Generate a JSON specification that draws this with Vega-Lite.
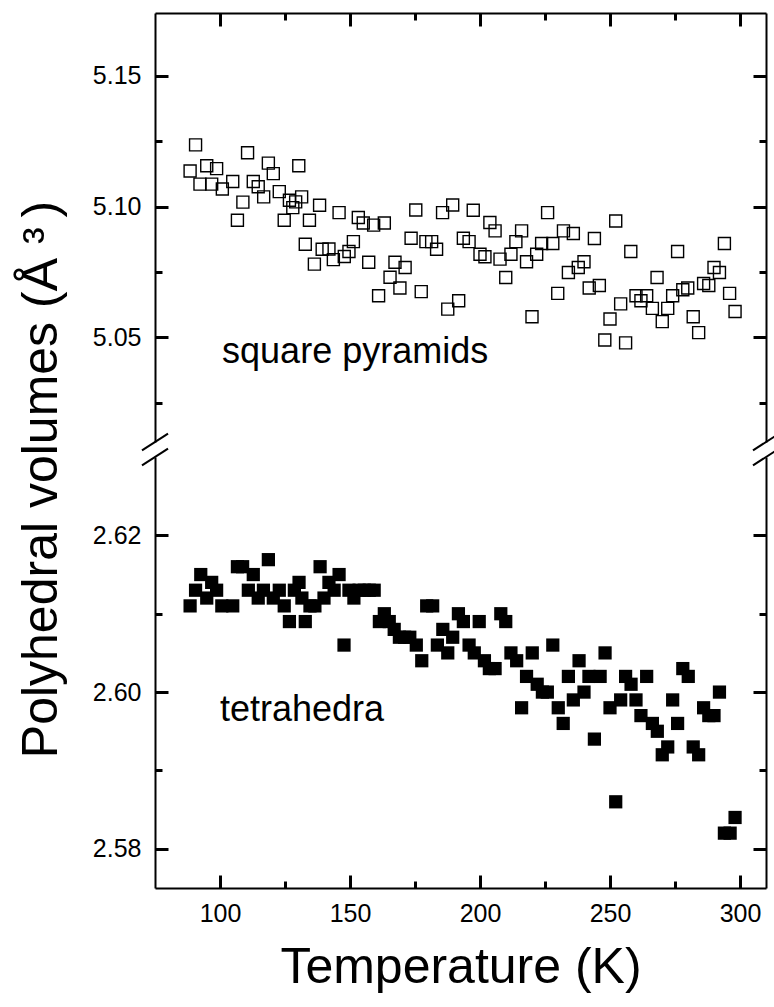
{
"$schema": "https://vega.github.io/schema/vega-lite/v6.json",
"background": "white",
"padding": {"left": 17, "top": 11, "right": 0, "bottom": 5},
"width": 611,
"height": 875,
"title": {"text": "Polyhedral volumes (Å ³\u2009)", "orient": "left", "anchor": "middle", "font": "Liberation Sans", "fontSize": 50, "fontWeight": "normal", "color": "black", "offset": 25, "dx": -29},
"config": {
  "view": {"stroke": null},
  "font": "Liberation Sans",
  "axis": {"domainColor": "black", "domainWidth": 2, "tickColor": "black", "tickWidth": 3, "labelColor": "black", "labelFont": "Liberation Sans", "labelFontSize": 25, "grid": false, "titleFont": "Liberation Sans", "titleFontWeight": "normal", "titleColor": "black", "title": null}
},
"datasets": {
"pyr": [
{"T":88.5,"V":5.1136},{"T":90.6,"V":5.1236},{"T":92.3,"V":5.1086},{"T":94.9,"V":5.1156},{"T":96.8,"V":5.1086},{"T":98.7,"V":5.1145},{"T":100.9,"V":5.1067},{"T":104.9,"V":5.1096},{"T":106.7,"V":5.0948},{"T":108.8,"V":5.1017},{"T":110.6,"V":5.1206},{"T":112.8,"V":5.1096},{"T":114.7,"V":5.1076},{"T":116.8,"V":5.1037},{"T":118.6,"V":5.1166},{"T":120.5,"V":5.1126},{"T":122.8,"V":5.1057},{"T":124.7,"V":5.0948},{"T":126.7,"V":5.1024},{"T":128,"V":5.0996},{"T":129.1,"V":5.1018},{"T":130.3,"V":5.1156},{"T":131.4,"V":5.1037},{"T":132.8,"V":5.0856},{"T":134.4,"V":5.0948},{"T":136.3,"V":5.078},{"T":138.3,"V":5.1005},{"T":139.3,"V":5.0837},{"T":141.9,"V":5.0838},{"T":143.6,"V":5.0797},{"T":145.8,"V":5.0977},{"T":147.8,"V":5.0809},{"T":149.6,"V":5.0828},{"T":151.3,"V":5.0866},{"T":153.2,"V":5.0958},{"T":155.1,"V":5.0937},{"T":157.2,"V":5.0787},{"T":159.1,"V":5.0929},{"T":161,"V":5.0659},{"T":163.2,"V":5.0937},{"T":165.4,"V":5.073},{"T":167.3,"V":5.0787},{"T":169.2,"V":5.0689},{"T":171.2,"V":5.0767},{"T":173.5,"V":5.0879},{"T":175.3,"V":5.0987},{"T":177.4,"V":5.0675},{"T":179.2,"V":5.0866},{"T":181.4,"V":5.0866},{"T":183.3,"V":5.0837},{"T":185.6,"V":5.0977},{"T":187.6,"V":5.0608},{"T":189.5,"V":5.1006},{"T":191.8,"V":5.064},
{"T":193.6,"V":5.0879},{"T":195.8,"V":5.0866},{"T":197.4,"V":5.0986},{"T":200,"V":5.0818},{"T":201.9,"V":5.0808},{"T":203.8,"V":5.0939},{"T":205.8,"V":5.0907},{"T":207.7,"V":5.0799},{"T":209.9,"V":5.0729},{"T":211.9,"V":5.0818},{"T":213.8,"V":5.0866},{"T":216,"V":5.0907},{"T":217.9,"V":5.0789},{"T":220,"V":5.0579},{"T":221.8,"V":5.0818},{"T":223.7,"V":5.0859},{"T":226,"V":5.0977},{"T":228,"V":5.0859},{"T":229.9,"V":5.0668},{"T":232.1,"V":5.0907},{"T":234,"V":5.0748},{"T":235.9,"V":5.0897},{"T":237.8,"V":5.0767},{"T":240,"V":5.0789},{"T":242,"V":5.0689},{"T":244,"V":5.0878},{"T":245.9,"V":5.0698},{"T":248,"V":5.049},{"T":250,"V":5.057},{"T":252.2,"V":5.0945},{"T":254.1,"V":5.0628},{"T":256,"V":5.0479},{"T":258,"V":5.0828},{"T":260,"V":5.0659},{"T":261.9,"V":5.064},{"T":264.1,"V":5.0659},{"T":266.3,"V":5.0611},{"T":268.1,"V":5.0729},{"T":270.1,"V":5.056},{"T":272.2,"V":5.0611},{"T":274.1,"V":5.0659},{"T":276,"V":5.0828},{"T":278,"V":5.0682},{"T":279.9,"V":5.0689},{"T":282,"V":5.0579},{"T":284.1,"V":5.0518},{"T":286,"V":5.0706},{"T":288,"V":5.0698},{"T":290,"V":5.0767},{"T":292.1,"V":5.0748},{"T":294,"V":5.0859},{"T":296,"V":5.0668},{"T":298.1,"V":5.0599}
],
"tet": [
{"T":88.5,"V":2.611},{"T":90.6,"V":2.613},{"T":92.6,"V":2.615},{"T":94.9,"V":2.612},{"T":96.8,"V":2.614},{"T":98.7,"V":2.613},{"T":100.7,"V":2.611},{"T":104.9,"V":2.611},{"T":106.7,"V":2.616},{"T":108.7,"V":2.616},{"T":110.9,"V":2.613},{"T":112.8,"V":2.615},{"T":114.7,"V":2.612},{"T":116.7,"V":2.613},{"T":118.6,"V":2.6169},{"T":120.5,"V":2.612},{"T":122.8,"V":2.613},{"T":124.7,"V":2.611},{"T":126.7,"V":2.609},{"T":128.6,"V":2.613},{"T":130.4,"V":2.614},{"T":131.5,"V":2.612},{"T":132.8,"V":2.609},{"T":134.6,"V":2.611},{"T":136.5,"V":2.611},{"T":138.5,"V":2.616},{"T":140,"V":2.612},{"T":141.9,"V":2.614},{"T":143.9,"V":2.613},{"T":145.8,"V":2.615},{"T":147.7,"V":2.606},{"T":149.6,"V":2.613},{"T":151.5,"V":2.612},{"T":153.5,"V":2.613},{"T":155.5,"V":2.613},{"T":157.4,"V":2.613},{"T":159.3,"V":2.613},{"T":161.3,"V":2.609},{"T":163.2,"V":2.61},{"T":165.1,"V":2.609},{"T":167,"V":2.608},{"T":169,"V":2.607},{"T":171,"V":2.607},{"T":173,"V":2.607},{"T":175.5,"V":2.606},{"T":177.6,"V":2.604},{"T":179.5,"V":2.611},{"T":181.8,"V":2.611},{"T":183.6,"V":2.606},{"T":185.7,"V":2.608},{"T":187.6,"V":2.605},{"T":189.5,"V":2.607},{"T":191.7,"V":2.61},{"T":193.6,"V":2.609},{"T":195.8,"V":2.606},{"T":197.8,"V":2.605},{"T":199.7,"V":2.609},{"T":201.7,"V":2.604},{"T":203.6,"V":2.603},{"T":205.8,"V":2.603},{"T":208,"V":2.61},{"T":209.9,"V":2.609},{"T":211.9,"V":2.605},{"T":214.1,"V":2.604},{"T":216,"V":2.598},{"T":217.9,"V":2.602},{"T":220.1,"V":2.605},{"T":222,"V":2.601},{"T":224,"V":2.6},{"T":225.9,"V":2.6},{"T":228,"V":2.606},{"T":230.1,"V":2.598},{"T":232,"V":2.596},{"T":234,"V":2.602},{"T":235.9,"V":2.599},{"T":238.1,"V":2.604},{"T":240,"V":2.6},{"T":241.9,"V":2.602},{"T":244,"V":2.594},{"T":246.2,"V":2.602},{"T":248.1,"V":2.605},{"T":250,"V":2.598},{"T":252.2,"V":2.586},{"T":254.1,"V":2.599},{"T":256,"V":2.602},{"T":258.1,"V":2.601},{"T":260,"V":2.599},{"T":261.9,"V":2.597},{"T":264.1,"V":2.602},{"T":266.3,"V":2.596},{"T":268.2,"V":2.595},{"T":270.1,"V":2.592},{"T":272.2,"V":2.593},{"T":274.1,"V":2.599},{"T":276,"V":2.596},{"T":278,"V":2.603},{"T":280.1,"V":2.602},{"T":282,"V":2.593},{"T":284.1,"V":2.592},{"T":286,"V":2.598},{"T":288,"V":2.597},{"T":290,"V":2.597},{"T":292.1,"V":2.6},{"T":294,"V":2.582},{"T":296.2,"V":2.582},{"T":298.1,"V":2.584}
]
},
"resolve": {"scale": {"y": "independent"}, "axis": {"x": "independent", "y": "independent"}},
"layer": [
  {"data": {"name": "pyr"},
   "mark": {"type": "point", "shape": "square", "filled": false, "stroke": "black", "strokeWidth": 1.4, "size": 144, "opacity": 1},
   "encoding": {
     "x": {"field": "T", "type": "quantitative", "scale": {"domain": [75, 310], "nice": false, "zero": false},
       "axis": {"orient": "top", "values": [100,150,200,250,300], "labels": false, "tickSize": -13, "tickColor": "black"}},
     "y": {"field": "V", "type": "quantitative", "scale": {"domain": [5.010, 5.174], "range": [429, 0], "nice": false, "zero": false},
       "axis": {"orient": "left", "values": [5.05,5.1,5.15], "format": ".2f", "tickSize": -13, "labelPadding": 27, "tickColor": "black"}}
   }},
  {"data": {"name": "tet"},
   "mark": {"type": "point", "shape": "square", "filled": true, "fill": "black", "strokeWidth": 0, "size": 175, "opacity": 1},
   "encoding": {
     "x": {"field": "T", "type": "quantitative",
       "axis": {"orient": "bottom", "values": [100,150,200,250,300], "tickSize": -13, "labelPadding": 26, "tickColor": "black", "title": "Temperature (K)", "titleFontSize": 50, "titlePadding": 16}},
     "y": {"field": "V", "type": "quantitative", "scale": {"domain": [2.575, 2.630], "range": [875, 444], "nice": false, "zero": false},
       "axis": {"orient": "left", "values": [2.58,2.6,2.62], "format": ".2f", "tickSize": -13, "labelPadding": 27, "tickColor": "black"}}
   }},
  {"data": {"values": [{}]},
   "mark": {"type": "text", "text": "square pyramids", "align": "left", "baseline": "alphabetic", "fontSize": 36, "font": "Liberation Sans", "color": "black"},
   "encoding": {
     "x": {"datum": 100.8, "type": "quantitative",
       "axis": {"orient": "top", "values": [125,175,225,275], "labels": false, "domain": false, "tickSize": -7, "tickColor": "black"}},
     "y": {"datum": 5.0403, "type": "quantitative", "scale": {"domain": [5.010, 5.174], "range": [429, 0], "nice": false, "zero": false},
       "axis": {"orient": "left", "values": [5.025,5.075,5.125], "labels": false, "domain": false, "tickSize": -7, "tickColor": "black"}}}},
  {"data": {"values": [{}]},
   "mark": {"type": "text", "text": "tetrahedra", "align": "left", "baseline": "alphabetic", "fontSize": 36, "font": "Liberation Sans", "color": "black"},
   "encoding": {
     "x": {"datum": 100, "type": "quantitative",
       "axis": {"orient": "bottom", "values": [125,175,225,275], "labels": false, "domain": false, "tickSize": -7, "tickColor": "black"}},
     "y": {"datum": 2.5963, "type": "quantitative", "scale": {"domain": [2.575, 2.630], "range": [875, 444], "nice": false, "zero": false},
       "axis": {"orient": "left", "values": [2.59,2.61], "labels": false, "domain": false, "tickSize": -7, "tickColor": "black"}}}},
  {"data": {"values": [{}]},
   "mark": {"type": "rule", "stroke": "black", "strokeWidth": 2},
   "encoding": {
     "x": {"datum": 70, "type": "quantitative", "axis": null}, "x2": {"datum": 80},
     "y": {"datum": 5.0068, "type": "quantitative", "scale": {"domain": [5.010, 5.174], "range": [429, 0], "nice": false, "zero": false},
       "axis": {"orient": "right", "values": [5.05,5.1,5.15], "labels": false, "tickSize": -13, "tickColor": "black"}},
     "y2": {"datum": 5.0132}}},
  {"data": {"values": [{}]},
   "mark": {"type": "rule", "stroke": "black", "strokeWidth": 2},
   "encoding": {
     "x": {"datum": 305, "type": "quantitative", "axis": null}, "x2": {"datum": 315},
     "y": {"datum": 5.0068, "type": "quantitative", "scale": {"domain": [5.010, 5.174], "range": [429, 0], "nice": false, "zero": false},
       "axis": {"orient": "right", "values": [5.025,5.075,5.125], "labels": false, "domain": false, "tickSize": -7, "tickColor": "black"}},
     "y2": {"datum": 5.0132}}},
  {"data": {"values": [{}]},
   "mark": {"type": "rule", "stroke": "black", "strokeWidth": 2},
   "encoding": {
     "x": {"datum": 70, "type": "quantitative", "axis": null}, "x2": {"datum": 80},
     "y": {"datum": 2.62893, "type": "quantitative", "scale": {"domain": [2.575, 2.630], "range": [875, 444], "nice": false, "zero": false},
       "axis": {"orient": "right", "values": [2.58,2.6,2.62], "labels": false, "tickSize": -13, "tickColor": "black"}},
     "y2": {"datum": 2.63107}}},
  {"data": {"values": [{}]},
   "mark": {"type": "rule", "stroke": "black", "strokeWidth": 2},
   "encoding": {
     "x": {"datum": 305, "type": "quantitative", "axis": null}, "x2": {"datum": 315},
     "y": {"datum": 2.62893, "type": "quantitative", "scale": {"domain": [2.575, 2.630], "range": [875, 444], "nice": false, "zero": false},
       "axis": {"orient": "right", "values": [2.59,2.61], "labels": false, "domain": false, "tickSize": -7, "tickColor": "black"}},
     "y2": {"datum": 2.63107}}}
]
}
